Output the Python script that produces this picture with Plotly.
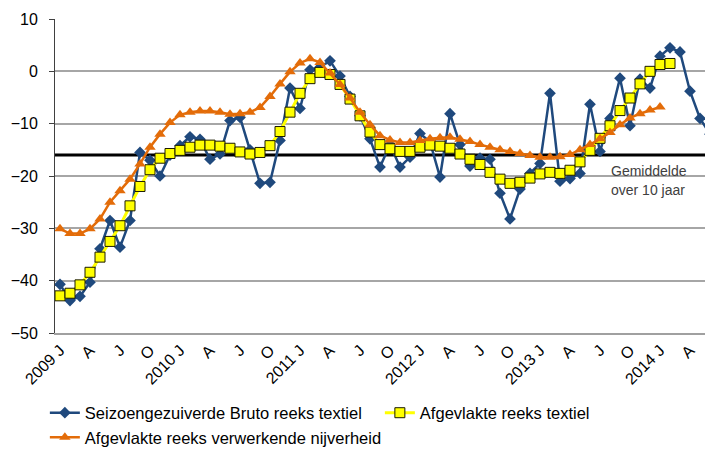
import plotly.graph_objects as go

# ---- data ----
months = [f"{y}-{m:02d}" for y in range(2009, 2015) for m in range(1, 13)][:66]

tick_labels = ["2009 J", "A", "J", "O", "2010 J", "A", "J", "O", "2011 J", "A", "J", "O",
               "2012 J", "A", "J", "O", "2013 J", "A", "J", "O", "2014 J", "A"]

bruto_textiel = [-40.7, -43.8, -43.0, -40.3, -33.9, -28.5, -33.6, -28.5, -15.5, -17.0,
                 -20.0, -16.0, -14.2, -12.5, -13.0, -16.8, -15.8, -9.4, -8.8, -15.0,
                 -21.4, -21.2, -13.2, -3.2, -7.1, 0.3, 0.8, 2.0, -0.9, -4.8,
                 -8.5, -12.9, -18.3, -14.0, -18.3, -16.4, -11.9, -13.5, -20.2, -8.1,
                 -14.0, -18.1, -16.6, -16.8, -23.3, -28.2, -22.5, -19.5, -17.6, -4.2,
                 -21.0, -20.5, -19.5, -6.3, -15.3, -9.0, -1.3, -10.4, -1.5, -3.2,
                 2.9, 4.5, 3.7, -3.8, -9.0, -12.0]

afgevlakt_textiel = [-42.9, -42.4, -40.8, -38.4, -35.5, -32.5, -29.5, -25.7, -22.0, -18.8,
                     -16.6, -15.7, -15.1, -14.5, -14.1, -14.1, -14.3, -14.7, -15.4, -15.8,
                     -15.5, -14.2, -11.5, -7.8, -4.2, -1.4, -0.2, -0.6, -2.5, -5.3,
                     -8.5, -11.6, -14.0, -14.8, -15.3, -15.3, -14.5, -14.1, -14.3, -14.7,
                     -15.8, -16.8, -17.8, -19.3, -20.6, -21.4, -21.2, -20.4, -19.6, -19.3,
                     -19.5, -18.9, -17.3, -15.1, -12.8, -10.4, -7.5, -5.1, -2.4, 0.0,
                     1.3, 1.5]

afgevlakt_nijverheid = [-30.1, -31.0, -31.0, -30.1, -28.2, -25.0, -22.8, -20.6, -17.7, -14.5,
                        -12.0, -9.8, -8.3, -7.8, -7.6, -7.6, -7.8, -8.2, -8.1, -7.8,
                        -6.9, -4.8, -2.4, -0.1, 1.6, 2.4, 1.7, -0.3, -2.5, -5.1,
                        -7.8, -10.2, -12.3, -13.1, -13.6, -13.6, -13.2, -12.9, -12.7, -12.6,
                        -13.0, -13.4, -14.0, -14.5, -15.0, -15.3, -15.7, -16.1, -16.4, -16.4,
                        -16.3, -15.9, -15.0, -14.0, -12.9, -11.7, -10.2, -8.9, -8.1, -7.4,
                        -6.8]

gemiddelde = -16.0

names = ["Seizoengezuiverde Bruto reeks textiel",
         "Afgevlakte reeks textiel",
         "Afgevlakte reeks verwerkende nijverheid"]

FONT = "Liberation Sans, Arial, sans-serif"
BLUE = "#1F497D"
ORANGE = "#E36C09"

fig = go.Figure()

fig.add_trace(go.Scatter(
    x=months[:len(bruto_textiel)], y=bruto_textiel, name=names[0],
    mode="lines+markers",
    line=dict(color=BLUE, width=2.5),
    marker=dict(symbol="diamond", size=9, color=BLUE),
))
fig.add_trace(go.Scatter(
    x=months[:len(afgevlakt_textiel)], y=afgevlakt_textiel, name=names[1],
    mode="lines+markers",
    line=dict(color="#FFFF00", width=3),
    marker=dict(symbol="square", size=10, color="#FFFF00",
                line=dict(color="#1a1a00", width=1)),
))
fig.add_trace(go.Scatter(
    x=months[:len(afgevlakt_nijverheid)], y=afgevlakt_nijverheid, name=names[2],
    mode="lines+markers",
    line=dict(color=ORANGE, width=2.5),
    marker=dict(symbol="triangle-up", size=10, color=ORANGE),
))

fig.add_shape(type="line", xref="paper", x0=0, x1=1, yref="y",
              y0=gemiddelde, y1=gemiddelde,
              line=dict(color="black", width=3), layer="below")

fig.add_annotation(text="Gemiddelde", xref="paper", x=0.852, xanchor="left",
                   yref="y", y=-19.0, yanchor="middle", showarrow=False,
                   font=dict(family=FONT, size=14, color="#404040"))
fig.add_annotation(text="over 10 jaar", xref="paper", x=0.852, xanchor="left",
                   yref="y", y=-22.6, yanchor="middle", showarrow=False,
                   font=dict(family=FONT, size=14, color="#404040"))

fig.update_layout(
    width=705, height=450,
    margin=dict(l=55, r=0, t=19, b=117, autoexpand=False),
    paper_bgcolor="white", plot_bgcolor="white",
    font=dict(family=FONT, size=16, color="black"),
    showlegend=True,
    legend=dict(orientation="h", x=-0.0156, xanchor="left", y=-0.199, yanchor="top",
                font=dict(family=FONT, size=16.5, color="black"),
                bgcolor="rgba(0,0,0,0)", traceorder="normal",
                entrywidth=290, entrywidthmode="pixels",
                itemwidth=30, tracegroupgap=0),
    xaxis=dict(type="category", range=[-0.5, 64.5], automargin=False,
               tickmode="array", tickvals=months[0:64:3], ticktext=tick_labels,
               tickangle=-45, showgrid=False, zeroline=False,
               showline=True, linecolor="#a0a0a0", linewidth=1.5,
               ticks="", tickfont=dict(family=FONT, size=16, color="black")),
    yaxis=dict(range=[-50, 10], dtick=10, tick0=0, automargin=False,
               showgrid=True, gridcolor="#a6a6a6", gridwidth=1.5,
               zeroline=False, showline=True, linecolor="#404040", linewidth=1,
               ticks="outside", ticklen=5, tickcolor="#404040",
               ticklabelstandoff=8,
               tickfont=dict(family=FONT, size=16, color="black")),
)

fig.write_html("out.html",
               config={"displayModeBar": False},
               post_script="document.body.style.margin='0';document.body.style.overflow='hidden';")
